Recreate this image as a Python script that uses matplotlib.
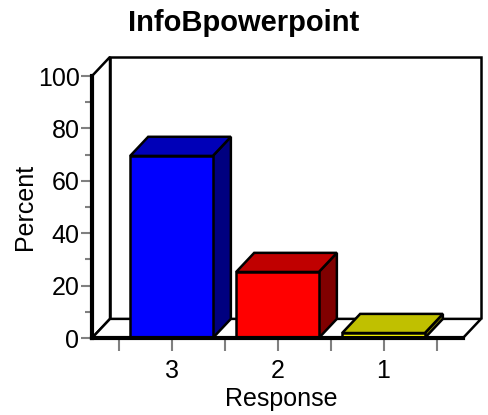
import matplotlib
matplotlib.use("Agg")
import matplotlib.pyplot as plt
from matplotlib.patches import Polygon

plt.rcParams["font.family"] = ["Liberation Sans", "DejaVu Sans"]

responses = ["3", "2", "1"]
percent = [69.5, 25.2, 1.9]
front_colors = ["#0000ff", "#ff0000", "#ffff00"]
top_colors = ["#0000b8", "#c00000", "#c0c000"]
side_colors = ["#000080", "#800000", "#808000"]

fig = plt.figure(figsize=(4.88, 4.15), dpi=100)
ax = fig.add_axes([92 / 488, 1 - 338 / 415, 371 / 488, 262 / 415])
ax.set_xlim(-0.75, 2.75)
ax.set_ylim(0, 100)

# depth of the pseudo-3D box, in data units (about 18 px across, 19 px up)
DX = 0.17
DY = 7.3
x0, x1 = ax.get_xlim()
edge = dict(edgecolor="black", linewidth=1.8, clip_on=False, joinstyle="miter")

# back wall, left wall and floor
ax.add_patch(Polygon([(x0 + DX, DY), (x0 + DX, 100 + DY), (x1 + DX, 100 + DY), (x1 + DX, DY)],
                     closed=False, facecolor="white", zorder=1, **edge))
ax.add_patch(Polygon([(x0, 0), (x0, 100), (x0 + DX, 100 + DY), (x0 + DX, DY)],
                     facecolor="white", zorder=1, **edge))
ax.add_patch(Polygon([(x0, 0), (x0 + DX, DY), (x1 + DX, DY), (x1, 0)],
                     facecolor="white", zorder=1, **edge))

width = 0.78
for i, (v, fc, tc, sc) in enumerate(zip(percent, front_colors, top_colors, side_colors)):
    l, r = i - width / 2, i + width / 2
    ax.add_patch(Polygon([(r, 0), (r + DX, DY), (r + DX, v + DY), (r, v)], facecolor=sc, zorder=3, **edge))
    ax.add_patch(Polygon([(l, v), (l + DX, v + DY), (r + DX, v + DY), (r, v)], facecolor=tc, zorder=3, **edge))
    ax.add_patch(Polygon([(l, 0), (l, v), (r, v), (r, 0)], facecolor=fc, zorder=4, **edge))

for side in ("top", "right"):
    ax.spines[side].set_visible(False)
for side in ("left", "bottom"):
    ax.spines[side].set_linewidth(3)
    ax.spines[side].set_zorder(6)
ax.patch.set_visible(False)

ax.set_yticks(range(0, 101, 20))
ax.set_yticks(range(10, 100, 20), minor=True)
ax.set_xticks(range(len(responses)))
ax.set_xticklabels(responses)
ax.set_xticks([-0.5, 0.5, 1.5, 2.5], minor=True)
ax.tick_params(which="both", color="#808080", width=1.5, labelsize=18)
ax.tick_params(axis="y", which="major", length=8, pad=1)
ax.tick_params(axis="y", which="minor", length=5)
ax.tick_params(axis="x", which="both", length=9, pad=6)

ax.set_xlabel("Response", fontsize=18)
ax.xaxis.label.set_va("center")
ax.xaxis.set_label_coords(0.51, -0.233)
ax.set_ylabel("Percent", fontsize=18)
ax.yaxis.label.set_va("center")
ax.yaxis.set_label_coords(-0.18, 0.5)
fig.text(0.5, 1 - 31 / 415, "InfoBpowerpoint", fontsize=21, fontweight="bold",
         ha="center", va="baseline")

fig.savefig("out.png", dpi=100)
